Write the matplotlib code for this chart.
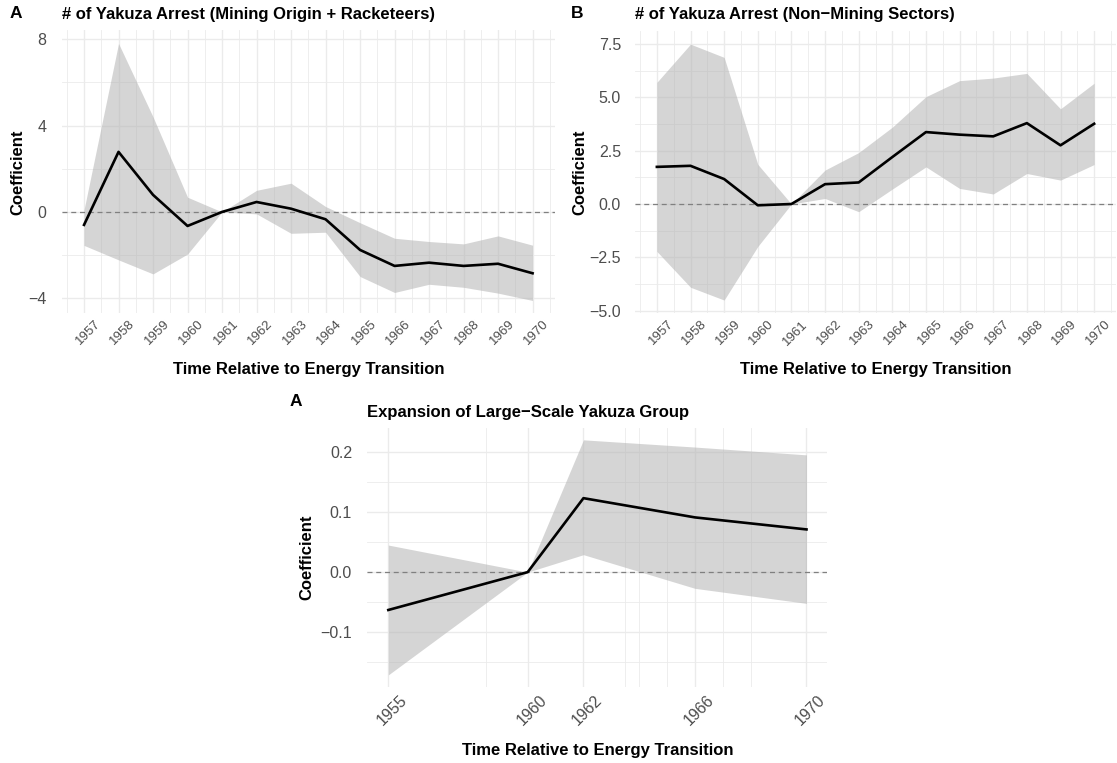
import matplotlib
matplotlib.use("Agg")
import matplotlib.pyplot as plt
from matplotlib.transforms import ScaledTranslation

plt.rcParams['font.family'] = ['Liberation Sans', 'DejaVu Sans']

# ---------------- data ----------------
years_ab = [1957, 1958, 1959, 1960, 1961, 1962, 1963, 1964, 1965, 1966, 1967, 1968, 1969, 1970]

coef_a = [-0.6, 2.78, 0.79, -0.65, 0.0, 0.46, 0.15, -0.34, -1.76, -2.5, -2.35, -2.5, -2.4, -2.84]
hi_a = [0.1, 7.8, 4.4, 0.68, 0.0, 1.0, 1.33, 0.25, -0.5, -1.22, -1.37, -1.48, -1.11, -1.54]
lo_a = [-1.55, -2.22, -2.87, -1.95, 0.0, -0.09, -0.99, -0.94, -2.99, -3.73, -3.35, -3.49, -3.76, -4.1]

coef_b = [1.74, 1.79, 1.17, -0.06, 0.0, 0.93, 1.01, 2.2, 3.37, 3.25, 3.17, 3.79, 2.75, 3.76]
hi_b = [5.7, 7.49, 6.87, 1.86, 0.0, 1.59, 2.41, 3.6, 5.03, 5.78, 5.9, 6.12, 4.46, 5.66]
lo_b = [-2.22, -3.9, -4.5, -1.99, 0.0, 0.26, -0.36, 0.7, 1.74, 0.73, 0.47, 1.43, 1.12, 1.85]

years_c = [1955, 1960, 1962, 1966, 1970]
coef_c = [-0.063, 0.0, 0.123, 0.091, 0.071]
hi_c = [0.045, 0.0, 0.22, 0.208, 0.195]
lo_c = [-0.171, 0.0, 0.029, -0.027, -0.052]

yticks_a = [-4, 0, 4, 8]
ylabels_a = ["\u22124", "0", "4", "8"]
yticks_b = [-5.0, -2.5, 0.0, 2.5, 5.0, 7.5]
ylabels_b = ["\u22125.0", "\u22122.5", "0.0", "2.5", "5.0", "7.5"]
yticks_c = [-0.1, 0.0, 0.1, 0.2]
ylabels_c = ["\u22120.1", "0.0", "0.1", "0.2"]
xminor_c = [1958.5, 1963.5, 1964, 1965, 1967, 1968]

titles = ["# of Yakuza Arrest (Mining Origin + Racketeers)",
          "# of Yakuza Arrest (Non\u2212Mining Sectors)",
          "Expansion of Large\u2212Scale Yakuza Group"]
tags = ["A", "B", "A"]
xlab = "Time Relative to Energy Transition"
ylab = "Coefficient"

# ---------------- figure ----------------
W, H = 1117, 763
DPI = 100
fig = plt.figure(figsize=(W / DPI, H / DPI), dpi=DPI)


def box(l, r, t, b):
    return [l / W, 1 - b / H, (r - l) / W, (b - t) / H]


def fx(x):
    return x / W


def fy(y):
    return 1 - y / H


GRID = '#EBEBEB'
TXT = '#4D4D4D'
BAND = '#B3B3B3'


def style(ax, xs, xminor, yt, yl, ylim, xlim, xfs, yfs, ypad, xpad):
    for s in ax.spines.values():
        s.set_visible(False)
    ax.set_xticks(xs)
    ax.set_xticklabels([str(v) for v in xs], rotation=45, ha='center', va='top',
                       fontsize=xfs, color=TXT)
    ax.set_xticks(xminor, minor=True)
    ax.set_yticks(yt)
    ax.set_yticklabels(yl, fontsize=yfs, color=TXT)
    ymin = [(yt[i] + yt[i + 1]) / 2 for i in range(len(yt) - 1)]
    step = yt[1] - yt[0]
    ymin = [yt[0] - step / 2] + ymin + [yt[-1] + step / 2]
    ax.set_yticks(ymin, minor=True)
    ax.set_xlim(*xlim)
    ax.set_ylim(*ylim)
    ax.tick_params(axis='both', which='both', length=0)
    ax.tick_params(axis='y', pad=ypad)
    ax.tick_params(axis='x', pad=xpad)
    ax.grid(which='major', color=GRID, lw=1.0)
    ax.grid(which='minor', color=GRID, lw=0.6)
    ax.set_axisbelow(True)
    for lbl in ax.get_xticklabels():
        lbl.set_transform(lbl.get_transform() + ScaledTranslation(4 / DPI, 0, fig.dpi_scale_trans))


def draw(ax, x, c, lo, hi):
    ax.fill_between(x, lo, hi, color=BAND, alpha=0.55, lw=0, zorder=2)
    ax.axhline(0, color='#808080', lw=0.9, ls=(0, (4, 3)), zorder=3)
    ax.plot(x, c, color='black', lw=1.9, zorder=4)


# Panel A
axA = fig.add_axes(box(61.6, 555, 30.5, 313))
draw(axA, years_ab, coef_a, lo_a, hi_a)
style(axA, years_ab, [y + 0.5 for y in [1956] + years_ab], yticks_a, ylabels_a,
      (-4.68, 8.4), (1957 - 0.65, 1970 + 0.65), 9.5, 11.5, 11, 3.5)

# Panel B
axB = fig.add_axes(box(635, 1116, 30.7, 313.3))
draw(axB, years_ab, coef_b, lo_b, hi_b)
style(axB, years_ab, [y + 0.5 for y in [1956] + years_ab], yticks_b, ylabels_b,
      (-5.12, 8.12), (1957 - 0.65, 1970 + 0.65), 9.5, 11.5, 10, 3.5)

# Panel C
axC = fig.add_axes(box(367.4, 827.4, 428.3, 686.7))
draw(axC, years_c, coef_c, lo_c, hi_c)
style(axC, years_c, xminor_c, yticks_c, ylabels_c,
      (-0.1906, 0.2392), (1955 - 0.75, 1970 + 0.75), 11.5, 11.5, 11, 4)

# titles, tags, axis labels
for (tx, ty, tg, tgx, tgy, tt) in [(61.6, 15, tags[0], 10, 13, titles[0]),
                                    (635, 15, tags[1], 571, 13, titles[1]),
                                    (367.4, 413, tags[2], 290, 401.5, titles[2])]:
    fig.text(fx(tx), fy(ty), tt, fontsize=12, fontweight='bold', ha='left', va='center')
    fig.text(fx(tgx), fy(tgy), tg, fontsize=12.5, fontweight='bold', ha='left', va='center')

for (x, y) in [(308.3, 370), (875.5, 370), (597.4, 750)]:
    fig.text(fx(x), fy(y), xlab, fontsize=12, fontweight='bold', ha='center', va='center')

for (x, y) in [(18, 171.8), (580, 172), (306.7, 557.5)]:
    fig.text(fx(x), fy(y), ylab, fontsize=12, fontweight='bold', ha='center', va='center',
             rotation=90)

fig.savefig("out.png", dpi=DPI)
